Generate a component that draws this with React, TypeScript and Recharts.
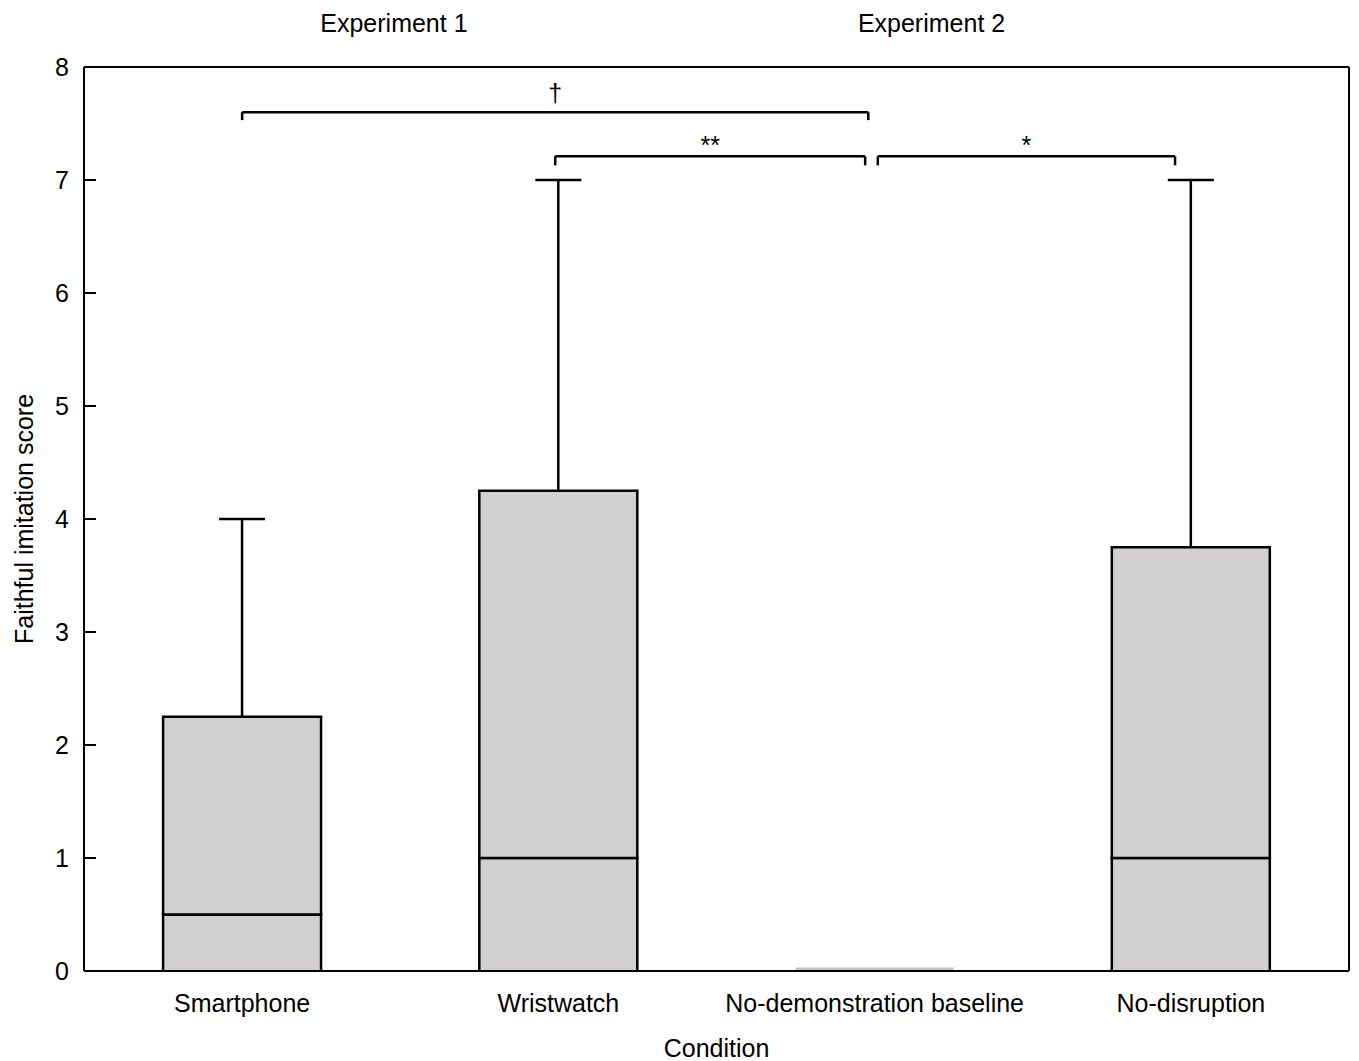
import React from "react";
import { ComposedChart, Bar, XAxis, YAxis, ReferenceLine, ReferenceDot } from "recharts";

// box-plot summary per condition
const conditions = ["Smartphone", "Wristwatch", "No-demonstration baseline", "No-disruption"];
const minValues = [0, 0, 0, 0];
const q1Values = [0, 0, 0, 0];
const medianValues = [0.5, 1, 0, 1];
const q3Values = [2.25, 4.25, 0, 3.75];
const maxValues = [4, 7, 0, 7];

const yTicks = [0, 1, 2, 3, 4, 5, 6, 7, 8];

// group titles above the plot (positions on the 0..4 overlay axis)
const experimentLabels = ["Experiment 1", "Experiment 2"];
const experimentPositions = [0.98, 2.68];

// significance brackets
const brackets = [
  { from: 0.5, to: 2.48, level: 7.6, drop: 0.07, label: "†", offset: 10 },
  { from: 1.49, to: 2.47, level: 7.21, drop: 0.08, label: "**", offset: 2 },
  { from: 2.51, to: 3.45, level: 7.21, drop: 0.08, label: "*", offset: 2 },
];

const data = conditions.map((name, i) => ({
  name,
  pos: i + 0.5,
  floor: minValues[i],
  lowWhisker: q1Values[i] - minValues[i],
  lower: medianValues[i] - q1Values[i],
  upper: q3Values[i] - medianValues[i],
  whisker: maxValues[i] - q3Values[i],
}));

const BOX_FILL = "#d1cfd0";
const STROKE = 2.5;
const FONT = 25;

const LowWhisker = (props: any) => {
  const { x, y, width, height } = props;
  if (!(height > 0)) return null;
  const cx = x + width / 2;
  return (
    <g>
      <line x1={cx} x2={cx} y1={y} y2={y + height} stroke="#000" strokeWidth={STROKE} />
      <line x1={cx - 23} x2={cx + 23} y1={y + height} y2={y + height} stroke="#000" strokeWidth={STROKE} />
    </g>
  );
};

const LowerBox = (props: any) => {
  const { x, y, width, height } = props;
  if (!(height > 0)) {
    return <line x1={x} x2={x + width} y1={y - 2} y2={y - 2} stroke="#c4c4c4" strokeWidth={3} />;
  }
  return (
    <g>
      <rect x={x} y={y} width={width} height={height} fill={BOX_FILL} />
      <path
        d={`M${x},${y + height} V${y} H${x + width} V${y + height}`}
        fill="none"
        stroke="#000"
        strokeWidth={STROKE}
      />
    </g>
  );
};

const UpperBox = (props: any) => {
  const { x, y, width, height } = props;
  if (!(height > 0)) return null;
  return <rect x={x} y={y} width={width} height={height} fill={BOX_FILL} stroke="#000" strokeWidth={STROKE} />;
};

const Whisker = (props: any) => {
  const { x, y, width, height } = props;
  if (!(height > 0)) return null;
  const cx = x + width / 2;
  return (
    <g>
      <line x1={cx} x2={cx} y1={y} y2={y + height} stroke="#000" strokeWidth={STROKE} />
      <line x1={cx - 23} x2={cx + 23} y1={y} y2={y} stroke="#000" strokeWidth={STROKE} />
    </g>
  );
};

export default function App() {
  return (
    <div style={{ fontFamily: "'Liberation Sans', Arial, sans-serif" }}>
      <style>{"body { overflow: hidden; }"}</style>
      <ComposedChart
        width={1343}
        height={1053}
        data={data}
        margin={{ top: 0, right: 0, bottom: 0, left: 0 }}
        barCategoryGap="25%"
      >
        <XAxis
          dataKey="name"
          height={90}
          interval={0}
          tickLine={false}
          tickSize={0}
          tickMargin={23}
          axisLine={{ stroke: "#000", strokeWidth: 2 }}
          tick={{ fill: "#000", fontSize: FONT }}
          label={{ value: "Condition", position: "insideBottom", offset: 4, fill: "#000", fontSize: FONT }}
        />
        <XAxis
          xAxisId="top"
          dataKey="pos"
          orientation="top"
          type="number"
          domain={[0, 4]}
          ticks={experimentPositions}
          tickFormatter={(_v: number, i: number) => experimentLabels[i]}
          height={59}
          tickLine={false}
          tickSize={0}
          tickMargin={35}
          axisLine={{ stroke: "#000", strokeWidth: 2 }}
          tick={{ fill: "#000", fontSize: FONT }}
          allowDataOverflow
        />
        <YAxis
          domain={[0, 8]}
          ticks={yTicks}
          width={76}
          tickSize={-12}
          tickMargin={27}
          axisLine={{ stroke: "#000", strokeWidth: 2 }}
          tickLine={{ stroke: "#000", strokeWidth: 2 }}
          tick={{ fill: "#000", fontSize: FONT }}
          label={{
            value: "Faithful imitation score",
            angle: -90,
            position: "insideLeft",
            offset: 16,
            fill: "#000",
            fontSize: FONT,
            style: { textAnchor: "middle" },
          }}
        />
        <YAxis
          yAxisId="right"
          orientation="right"
          domain={[0, 8]}
          width={2}
          tick={false}
          tickLine={false}
          axisLine={{ stroke: "#000", strokeWidth: 2 }}
        />
        <Bar dataKey="floor" stackId="box" fill="none" isAnimationActive={false} />
        <Bar dataKey="lowWhisker" stackId="box" shape={LowWhisker} isAnimationActive={false} />
        <Bar dataKey="lower" stackId="box" shape={LowerBox} isAnimationActive={false} />
        <Bar dataKey="upper" stackId="box" shape={UpperBox} isAnimationActive={false} />
        <Bar dataKey="whisker" stackId="box" shape={Whisker} isAnimationActive={false} />

        {brackets.map((b, i) => (
          <ReferenceLine
            key={`h${i}`}
            xAxisId="top"
            segment={[{ x: b.from, y: b.level }, { x: b.to, y: b.level }]}
            stroke="#000"
            strokeWidth={STROKE}
          />
        ))}
        {brackets.map((b, i) => (
          <ReferenceLine
            key={`l${i}`}
            xAxisId="top"
            segment={[{ x: b.from, y: b.level }, { x: b.from, y: b.level - b.drop }]}
            stroke="#000"
            strokeWidth={STROKE}
          />
        ))}
        {brackets.map((b, i) => (
          <ReferenceLine
            key={`r${i}`}
            xAxisId="top"
            segment={[{ x: b.to, y: b.level }, { x: b.to, y: b.level - b.drop }]}
            stroke="#000"
            strokeWidth={STROKE}
          />
        ))}
        {brackets.map((b, i) => (
          <ReferenceDot
            key={`t${i}`}
            xAxisId="top"
            x={(b.from + b.to) / 2}
            y={b.level}
            r={0}
            fill="none"
            stroke="none"
            label={{ value: b.label, position: "top", offset: b.offset, fill: "#000", fontSize: FONT }}
          />
        ))}
      </ComposedChart>
    </div>
  );
}
